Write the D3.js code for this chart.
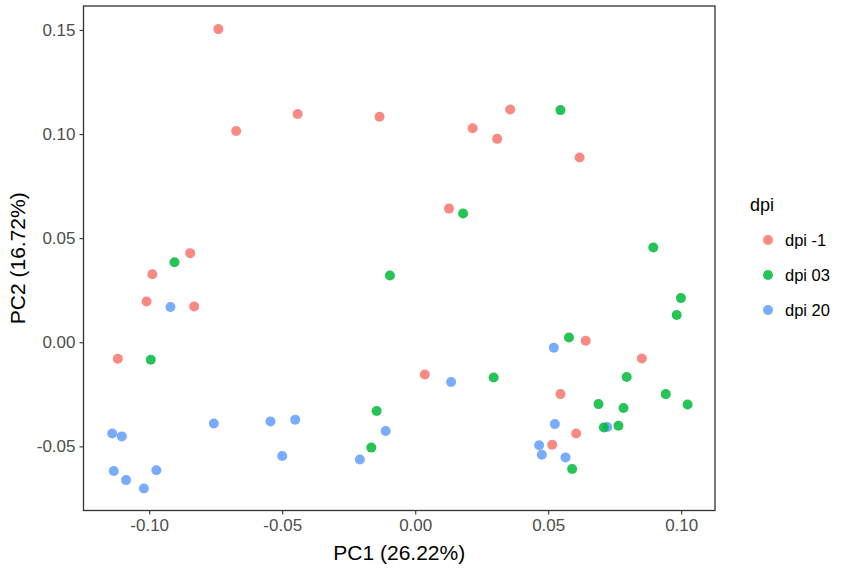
<!DOCTYPE html>
<html>
<head>
<meta charset="utf-8">
<script src="https://cdn.jsdelivr.net/npm/d3@7.9.0/dist/d3.min.js"></script>
<style>
  body { margin: 0; background: #fff; }
  svg { font-family: Arial, "Liberation Sans", sans-serif; display: block; }
</style>
</head>
<body>
<svg id="chart" width="851" height="572"></svg>
<script>
// PCA scores, one pair of arrays per group
const groups = ['dpi -1', 'dpi 03', 'dpi 20'];
const groupColors = ['#F8766D', '#00BA38', '#619CFF'];

const pc1Minus1 = [-0.0740, -0.0442, -0.0673, -0.0846, -0.0988, -0.1010, -0.0831, -0.1118, -0.0134, 0.0216,
                   0.0357, 0.0308, 0.0127, 0.0036, 0.0618, 0.0641, 0.0852, 0.0546, 0.0605, 0.0515];
const pc2Minus1 = [0.1504, 0.1096, 0.1015, 0.0428, 0.0327, 0.0196, 0.0172, -0.0079, 0.1083, 0.1028,
                   0.1118, 0.0977, 0.0642, -0.0155, 0.0887, 0.0007, -0.0078, -0.0249, -0.0438, -0.0492];

const pc1Day03 = [-0.0905, -0.0994, 0.0180, -0.0095, 0.0295, -0.0145, -0.0165, 0.0546, 0.0895, 0.0999,
                  0.0983, 0.0578, 0.0795, 0.0942, 0.0689, 0.0783, 0.1024, 0.0709, 0.0764, 0.0590];
const pc2Day03 = [0.0384, -0.0084, 0.0618, 0.0321, -0.0169, -0.0330, -0.0506, 0.1115, 0.0455, 0.0212,
                  0.0131, 0.0023, -0.0167, -0.0249, -0.0297, -0.0316, -0.0299, -0.0409, -0.0401, -0.0609];

const pc1Day20 = [-0.0920, -0.0757, -0.0544, -0.0451, -0.1139, -0.1103, -0.0500, -0.1133, -0.0973, -0.1087,
                  -0.1020, 0.0135, -0.0111, -0.0208, 0.0521, 0.0525, 0.0722, 0.0466, 0.0476, 0.0565];
const pc2Day20 = [0.0169, -0.0390, -0.0380, -0.0372, -0.0438, -0.0452, -0.0546, -0.0618, -0.0615, -0.0662,
                  -0.0702, -0.0191, -0.0426, -0.0563, -0.0026, -0.0393, -0.0407, -0.0495, -0.0540, -0.0553];

const xTicks = [-0.10, -0.05, 0.00, 0.05, 0.10];
const yTicks = [-0.05, 0.00, 0.05, 0.10, 0.15];

const xLabel = 'PC1 (26.22%)';
const yLabel = 'PC2 (16.72%)';
const legendTitle = 'dpi';

// build one row per sample
const points = [];
[[pc1Minus1, pc2Minus1], [pc1Day03, pc2Day03], [pc1Day20, pc2Day20]].forEach(([xs, ys], g) => {
  xs.forEach((v, i) => points.push({ pc1: v, pc2: ys[i], group: groups[g] }));
});
// blue first so green sits on top where they overlap
const drawOrder = ['dpi 20', 'dpi -1', 'dpi 03'];
points.sort((a, b) => drawOrder.indexOf(a.group) - drawOrder.indexOf(b.group));

const margin = { left: 83.5, right: 715, top: 6, bottom: 510.5 };

const x = d3.scaleLinear().domain([-0.1247, 0.1127]).range([margin.left, margin.right]);
const y = d3.scaleLinear().domain([-0.0808, 0.1615]).range([margin.bottom, margin.top]);
const color = d3.scaleOrdinal().domain(groups).range(groupColors);

// R prints a plain hyphen, not the unicode minus d3 uses
const fmt = d => d3.format('.2f')(d).replace('\u2212', '-');

const svg = d3.select('#chart');

// x axis
const xAxis = svg.append('g')
  .attr('transform', `translate(0,${margin.bottom})`)
  .call(d3.axisBottom(x).tickValues(xTicks).tickFormat(fmt).tickSizeOuter(0).tickSize(4).tickPadding(4));
xAxis.select('.domain').remove();
xAxis.selectAll('line').attr('stroke', '#333').attr('stroke-width', 1.1);
xAxis.selectAll('text').attr('fill', '#4d4d4d').style('font-size', '17px');

// y axis
const yAxis = svg.append('g')
  .attr('transform', `translate(${margin.left},0)`)
  .call(d3.axisLeft(y).tickValues(yTicks).tickFormat(fmt).tickSizeOuter(0).tickSize(4).tickPadding(4));
yAxis.select('.domain').remove();
yAxis.selectAll('line').attr('stroke', '#333').attr('stroke-width', 1.1);
yAxis.selectAll('text').attr('fill', '#4d4d4d').style('font-size', '17px');

// panel border
svg.append('rect')
  .attr('x', margin.left)
  .attr('y', margin.top)
  .attr('width', margin.right - margin.left)
  .attr('height', margin.bottom - margin.top)
  .attr('fill', 'none')
  .attr('stroke', '#333')
  .attr('stroke-width', 1.3);

// points
svg.append('g')
  .selectAll('circle')
  .data(points)
  .enter()
  .append('circle')
  .attr('cx', d => x(d.pc1))
  .attr('cy', d => y(d.pc2))
  .attr('r', 5)
  .attr('fill', d => color(d.group))
  .attr('fill-opacity', 0.85);

// axis titles
svg.append('text')
  .attr('x', (margin.left + margin.right) / 2)
  .attr('y', 560)
  .attr('text-anchor', 'middle')
  .style('font-size', '21px')
  .text(xLabel);

svg.append('text')
  .attr('transform', `translate(25,${(margin.top + margin.bottom) / 2}) rotate(-90)`)
  .attr('text-anchor', 'middle')
  .style('font-size', '21px')
  .text(yLabel);

// legend
const legend = svg.append('g').attr('transform', 'translate(750,0)');
legend.append('text')
  .attr('x', 0)
  .attr('y', 211)
  .style('font-size', '18px')
  .text(legendTitle);

const items = legend.selectAll('g.item')
  .data(groups)
  .enter()
  .append('g')
  .attr('class', 'item')
  .attr('transform', (d, i) => `translate(0,${240 + i * 35})`);

items.append('circle')
  .attr('cx', 18)
  .attr('cy', 0)
  .attr('r', 5)
  .attr('fill', d => color(d))
  .attr('fill-opacity', 0.85);

items.append('text')
  .attr('x', 35)
  .attr('y', 0)
  .attr('dy', '0.35em')
  .style('font-size', '16.5px')
  .text(d => d);
</script>
</body>
</html>
